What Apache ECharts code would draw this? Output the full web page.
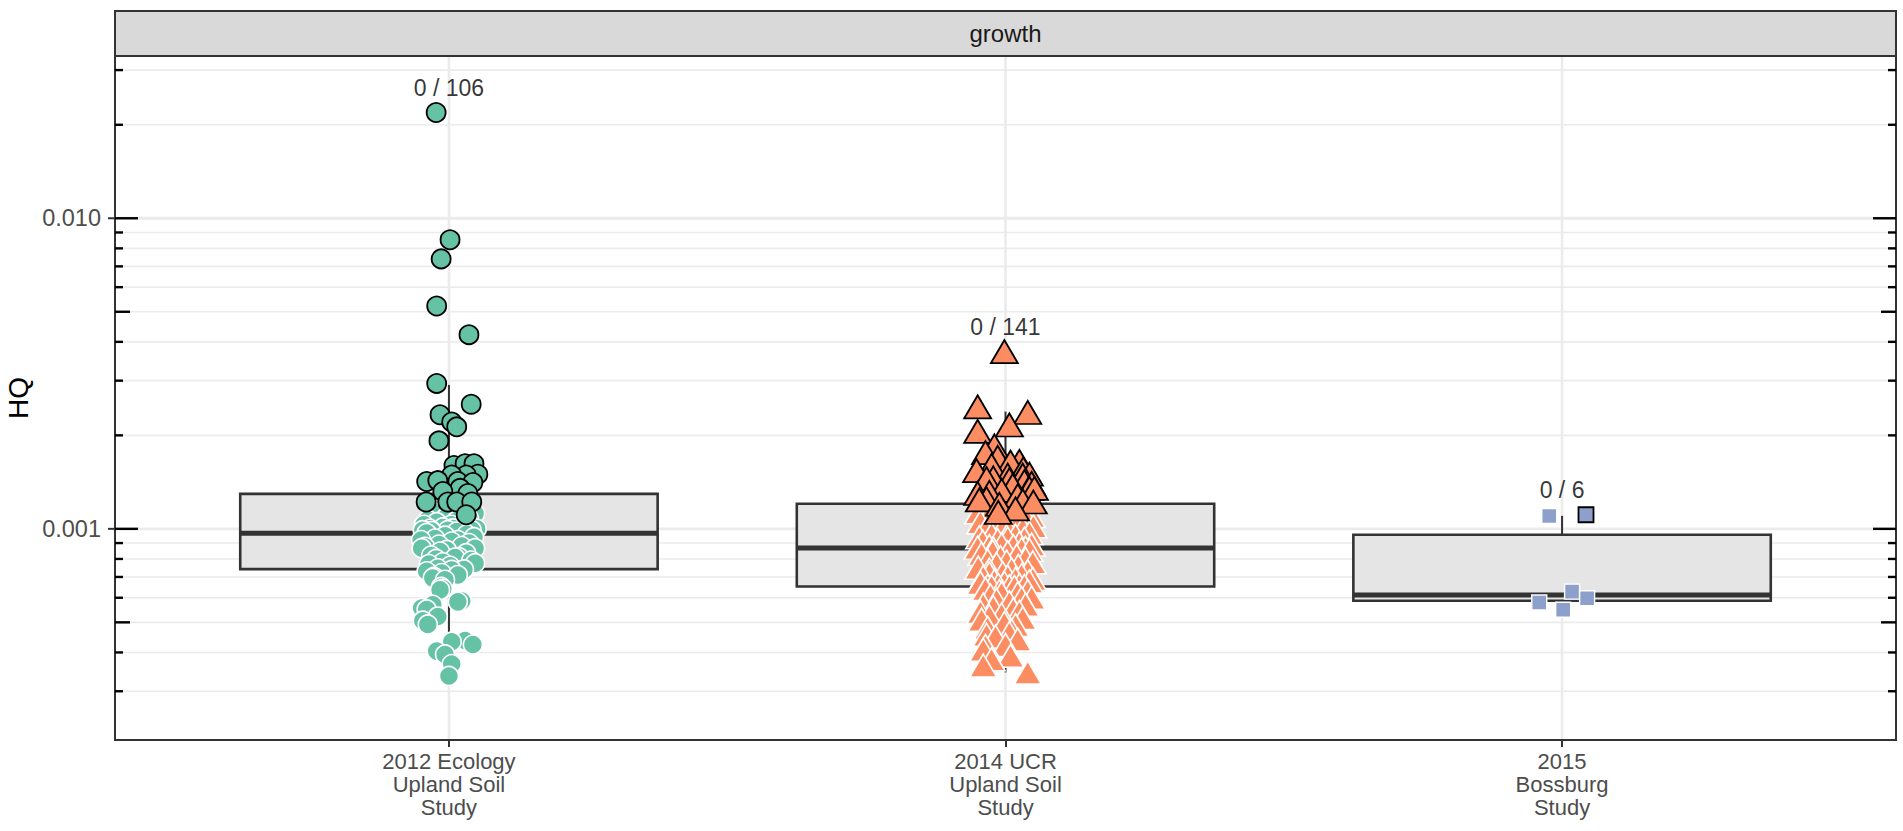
<!DOCTYPE html>
<html><head><meta charset="utf-8">
<script src="https://cdn.jsdelivr.net/npm/echarts@6/dist/echarts.min.js"></script>
<style>html,body{margin:0;padding:0;background:#fff}#c{width:1903px;height:831px}</style>
</head><body><div id="c"></div>
<script>
// ---------------- data ----------------
const categories = ['2012 Ecology\nUpland Soil\nStudy', '2014 UCR\nUpland Soil\nStudy', '2015\nBossburg\nStudy'];
const facetTitle = 'growth';
const yTitle = 'HQ';
const exceedCount = [0, 0, 0];
const sampleCount = [106, 141, 6];
const yTickValues = [0.001, 0.01];
const yTickLabels = ['0.001', '0.010'];
const yMin = 0.000209, yMax = 0.0333;
const logGridValues = [0.0003, 0.0004, 0.0005, 0.0006, 0.0007, 0.0008, 0.0009,
  0.001, 0.002, 0.003, 0.004, 0.005, 0.006, 0.007, 0.008, 0.009, 0.01, 0.02, 0.03];
// [lower whisker, Q1, median, Q3, upper whisker]
const boxStats2012 = [0.000331, 0.000742, 0.000968, 0.001296, 0.002907];
const boxStats2014 = [0.000345, 0.000652, 0.000867, 0.001204, 0.002385];
const boxStats2015 = [0.000549, 0.000587, 0.000612, 0.000957, 0.001101];

// 2012 Ecology (circles)
const hq2012Dark = [0.0219, 0.00853, 0.0074, 0.00522, 0.00422, 0.00294, 0.00252, 0.00233, 0.00221, 0.00213,
  0.00192, 0.0016, 0.00162, 0.00162, 0.0015, 0.00149, 0.00149, 0.00142, 0.00143, 0.00142,
  0.00141, 0.00135, 0.00132, 0.0013, 0.00122, 0.00122, 0.00122, 0.00122, 0.00111];
const jit2012Dark = [-0.023, 0.002, -0.014, -0.022, 0.036, -0.022, 0.040, -0.016, 0.005, 0.014,
  -0.018, 0.009, 0.029, 0.045, 0.052, 0.031, 0.005, -0.040, -0.020, 0.016,
  0.043, 0.020, -0.011, 0.034, -0.041, -0.002, 0.014, 0.041, 0.031];
const hq2012Light = [0.00116, 0.001135, 0.00112, 0.0011, 0.00109, 0.00108, 0.00107, 0.00106, 0.00105, 0.00104,
  0.00103, 0.00103, 0.00102, 0.00101, 0.00101, 0.001003, 0.001, 0.001, 0.00099, 0.00099,
  0.00099, 0.000985, 0.000983, 0.00098,
  0.00097, 0.00096, 0.00095, 0.00094, 0.00093, 0.00092, 0.00092, 0.00091, 0.0009, 0.00089,
  0.00088, 0.000875, 0.000866, 0.000866, 0.000855, 0.000845, 0.000835, 0.00082, 0.00081, 0.000808,
  0.0008, 0.00079, 0.00078, 0.000775, 0.00077, 0.00076,
  0.000746, 0.00074, 0.000737, 0.00073, 0.00072, 0.00071, 0.0007, 0.000694, 0.000685, 0.00065,
  0.000641, 0.000636, 0.000586, 0.000582, 0.000569, 0.000556, 0.00055, 0.000522, 0.000506, 0.000492,
  0.000437, 0.000433, 0.000424, 0.000404, 0.000394, 0.000367, 0.000336];
const jit2012Light = [-0.014, -0.029, 0.047, 0.022, -0.005, 0.036, -0.038, 0.013, -0.022, 0.029,
  -0.045, 0.004, 0.040, -0.011, 0.020, 0.007, -0.034, 0.050, -0.047, 0.041,
  -0.002, 0.025, -0.031, 0.014,
  -0.040, 0.032, -0.007, 0.045, -0.025, 0.016, -0.050, 0.005, 0.036, -0.018,
  0.023, -0.043, -0.049, 0.047, -0.004, -0.016, 0.031, -0.032, 0.018, 0.011,
  -0.023, 0.040, -0.011, 0.047, -0.036, 0.002,
  -0.020, 0.027, 0.005, -0.040, -0.013, 0.016, -0.027, -0.029, -0.007, -0.014,
  -0.011, -0.016, 0.023, 0.016, -0.029, -0.049, -0.040, -0.020, -0.047, -0.038,
  0.029, 0.005, 0.043, -0.022, -0.007, 0.005, 0];

// 2014 UCR (triangles)
const hq2014Dark = [0.00372, 0.00247, 0.00237, 0.00216, 0.00206, 0.00185, 0.00176, 0.0017, 0.00165, 0.00164,
  0.0016, 0.00156, 0.00154, 0.0015, 0.00149, 0.00149, 0.00146, 0.00145, 0.00144, 0.00142,
  0.0014, 0.00138, 0.00135, 0.00135, 0.00133, 0.00131, 0.0013, 0.00128, 0.00125, 0.00124,
  0.00123, 0.00122, 0.0012, 0.00116, 0.00113];
const jit2014Dark = [-0.002, -0.050, 0.040, 0.007, -0.050, -0.020, -0.036, -0.014, 0.025, 0.009,
  -0.025, 0.032, -0.052, 0.043, 0.004, 0.031, -0.022, -0.034, 0.007, 0.034,
  0.047, 0.013, 0.043, 0.052, -0.007, -0.029, -0.050, 0.022, -0.034, -0.047,
  0.031, 0.050, -0.011, 0.018, -0.013];
const hq2014Light = [0.00117, 0.00116, 0.00115, 0.00114, 0.00113, 0.00112, 0.00111, 0.0011, 0.00109, 0.00108,
  0.00107, 0.00106, 0.00105, 0.00104, 0.00103, 0.00102, 0.00101, 0.001, 0.00099, 0.00098,
  0.00097, 0.00096, 0.00095, 0.00094, 0.000931, 0.00093, 0.00092, 0.00091, 0.0009, 0.00089,
  0.00089, 0.00088, 0.00088, 0.00087, 0.00087,
  0.000865, 0.00086, 0.000855, 0.000845, 0.00084, 0.00083, 0.00082, 0.00081, 0.0008, 0.00079,
  0.000784, 0.00078, 0.00077, 0.00076, 0.00075, 0.00074, 0.00074, 0.00073, 0.00072, 0.000719,
  0.00071, 0.000702, 0.0007, 0.00069, 0.00069, 0.00068, 0.000677, 0.00067, 0.00067, 0.00066,
  0.00066, 0.000655, 0.000655, 0.000653, 0.000652,
  0.00065, 0.00064, 0.00063, 0.00063, 0.000621, 0.00062, 0.00061, 0.0006, 0.000598, 0.00059,
  0.00058, 0.00057, 0.00057, 0.00056, 0.00055, 0.00054, 0.00054, 0.00053, 0.000523, 0.000516,
  0.00051, 0.000497, 0.00049, 0.00048, 0.00047, 0.000462, 0.000456, 0.00045, 0.00044, 0.000423,
  0.00042, 0.000408, 0.00039, 0.00038, 0.000363, 0.000345];
const jit2014Light = [-0.040, 0.014, 0.036, -0.022, -0.049, 0.025, 0, 0.047, -0.032, 0.011,
  -0.011, 0.040, -0.045, 0.022, -0.018, 0.050, -0.004, 0.031, -0.036, 0.007,
  0.043, -0.025, 0.018, -0.047, 0.004, 0.034, -0.014, -0.041, 0.025, -0.007,
  0.047, -0.029, 0.014, -0.050, 0.036,
  -0.022, 0.029, 0.043, -0.023, 0.004, -0.043, 0.020, -0.009, 0.036, -0.032,
  0.002, 0.049, -0.016, 0.023, -0.049, 0.011, -0.029, 0.040, -0.005, -0.029,
  0.029, 0.004, -0.040, 0.018, 0.049, -0.020, 0.043, -0.002, -0.045, 0.025,
  -0.013, 0.034, -0.032, 0.007, -0.025,
  0.016, -0.036, 0.040, -0.011, -0.007, 0.022, -0.027, 0.047, 0.029, -0.016,
  0.007, -0.040, 0.036, -0.022, 0.014, -0.045, 0.025, -0.007, -0.029, 0.031,
  -0.043, -0.002, 0.018, -0.032, 0.011, 0.007, -0.034, -0.018, 0.022, 0,
  -0.036, -0.040, 0.009, -0.025, -0.040, 0.040];

// 2015 Bossburg (squares)
const hq2015Dark = [0.00111];
const jit2015Dark = [0.043];
const hq2015Light = [0.0011, 0.000579, 0.000628, 0.000598, 0.000549];
const jit2015Light = [-0.023, -0.041, 0.018, 0.045, 0.002];

// ---------------- layout / style ----------------
const FONT = '"Liberation Sans", Arial, Helvetica, sans-serif';
const GRID = {left: 115, right: 7, top: 56, bottom: 91};
const W = 1903, H = 831;
const STRIP_TOP = 11;
const fills = ['#66c2a5', '#fc8d62', '#8da0cb'];

const chart = echarts.init(document.getElementById('c'), null, {renderer: 'svg', width: W, height: H});

function pts(group, vals, jit) { return vals.map((v, i) => [group + jit[i], v]); }

const groupsAll = [hq2012Dark.concat(hq2012Light), hq2014Dark.concat(hq2014Light), hq2015Dark.concat(hq2015Light)];
const labelData = groupsAll.map((g, i) => [i + 1, Math.max.apply(null, g) * 1.2]);
const boxData = [boxStats2012, boxStats2014, boxStats2015].map((b, i) => [i + 1].concat(b));

function scatter(name, data, symbol, size, fill, stroke, bw) {
  return {
    type: 'scatter', name, data, symbol, symbolSize: size, z: 5,
    itemStyle: {color: fill, borderColor: stroke, borderWidth: bw, opacity: 1},
    emphasis: {disabled: true}, silent: true
  };
}

const option = {
  animation: false,
  backgroundColor: '#ffffff',
  grid: {left: GRID.left, right: GRID.right, top: GRID.top, bottom: GRID.bottom,
    outerBoundsMode: 'none', containLabel: false,
    show: true, borderColor: '#333333', borderWidth: 2, backgroundColor: '#ffffff'},
  xAxis: {
    type: 'value', min: 0.4, max: 3.6,
    axisLine: {show: false},
    splitLine: {show: false},
    axisTick: {show: true, customValues: [1, 2, 3], length: 7, lineStyle: {color: '#333333', width: 2}},
    axisLabel: {show: true, customValues: [1, 2, 3], margin: 10,
      formatter: v => categories[Math.round(v) - 1] || '',
      fontFamily: FONT, fontSize: 22, lineHeight: 23, color: '#4d4d4d', align: 'center'}
  },
  yAxis: {
    type: 'log', logBase: 10, min: yMin, max: yMax,
    axisLine: {show: false}, axisTick: {show: false}, axisLabel: {show: false}, splitLine: {show: false},
    name: yTitle, nameLocation: 'middle', nameGap: 82,
    nameTextStyle: {fontFamily: FONT, fontSize: 28, color: '#000000', lineHeight: 30}
  },
  graphic: [
    {type: 'rect', shape: {x: GRID.left, y: STRIP_TOP, width: W - GRID.left - GRID.right, height: GRID.top - STRIP_TOP},
      style: {fill: '#d9d9d9', stroke: '#333333', lineWidth: 2}, z: 10},
    {type: 'text', x: GRID.left + (W - GRID.left - GRID.right) / 2, y: (STRIP_TOP + GRID.top) / 2,
      style: {text: facetTitle, fontFamily: FONT, fontSize: 24, fill: '#1a1a1a', textAlign: 'center', textVerticalAlign: 'middle'}, z: 11}
  ],
  series: [
    { // vertical grid lines
      type: 'custom', z: 1, silent: true,
      data: categories.map((c, i) => [i + 1, yTickValues[0]]),
      renderItem(params, api) {
        const cs = params.coordSys;
        const x = api.coord([api.value(0), yTickValues[0]])[0];
        return {type: 'line', shape: {x1: x, y1: cs.y + 1, x2: x, y2: cs.y + cs.height - 1},
          style: {stroke: '#ebebeb', lineWidth: 2.6}};
      }
    },
    { // horizontal grid lines + log ticks on both sides
      type: 'custom', z: 1, silent: true,
      data: logGridValues.map(v => [1, v]),
      renderItem(params, api) {
        const cs = params.coordSys;
        const v = api.value(1);
        const y = api.coord([1, v])[1];
        const e = Math.floor(Math.log10(v) + 1e-9);
        const m = Math.round(v / Math.pow(10, e));
        const len = m === 1 ? 23 : (m === 5 ? 15 : 8);
        const gw = m === 1 ? 2.8 : 1.6;
        return {type: 'group', children: [
          {type: 'line', shape: {x1: cs.x + 1, y1: y, x2: cs.x + cs.width - 1, y2: y}, style: {stroke: '#ebebeb', lineWidth: gw}},
          {type: 'line', shape: {x1: cs.x, y1: y, x2: cs.x + len, y2: y}, style: {stroke: '#000000', lineWidth: 2.4}, z2: 5},
          {type: 'line', shape: {x1: cs.x + cs.width - len, y1: y, x2: cs.x + cs.width, y2: y}, style: {stroke: '#000000', lineWidth: 2.4}, z2: 5}
        ]};
      }
    },
    { // y axis tick marks and labels
      type: 'custom', z: 6, silent: true,
      data: yTickValues.map(v => [1, v]),
      renderItem(params, api) {
        const cs = params.coordSys;
        const y = api.coord([1, api.value(1)])[1];
        return {type: 'group', children: [
          {type: 'line', shape: {x1: cs.x - 7, y1: y, x2: cs.x, y2: y}, style: {stroke: '#333333', lineWidth: 2}},
          {type: 'text', x: cs.x - 14, y: y, style: {text: yTickLabels[params.dataIndex], fontFamily: FONT, fontSize: 23.5,
            fill: '#4d4d4d', textAlign: 'right', textVerticalAlign: 'middle'}}
        ]};
      }
    },
    { // box plots
      type: 'custom', z: 2, silent: true,
      data: boxData,
      encode: {x: 0, y: [1, 2, 3, 4, 5]},
      renderItem(params, api) {
        const x = api.value(0), lo = api.value(1), q1 = api.value(2), med = api.value(3), q3 = api.value(4), hi = api.value(5);
        const hw = 0.375;
        const tl = api.coord([x - hw, q3]), br = api.coord([x + hw, q1]);
        const ml = api.coord([x - hw, med]), mr = api.coord([x + hw, med]);
        const ph = api.coord([x, hi]), pl = api.coord([x, lo]);
        return {type: 'group', children: [
          {type: 'line', shape: {x1: ph[0], y1: ph[1], x2: ph[0], y2: tl[1]}, style: {stroke: '#333333', lineWidth: 2}},
          {type: 'line', shape: {x1: pl[0], y1: pl[1], x2: pl[0], y2: br[1]}, style: {stroke: '#333333', lineWidth: 2}},
          {type: 'rect', shape: {x: tl[0], y: tl[1], width: br[0] - tl[0], height: br[1] - tl[1]},
            style: {fill: '#e5e5e5', stroke: '#333333', lineWidth: 2.6}},
          {type: 'line', shape: {x1: ml[0], y1: ml[1], x2: mr[0], y2: mr[1]}, style: {stroke: '#333333', lineWidth: 5}}
        ]};
      }
    },
    scatter('2012 light', pts(1, hq2012Light, jit2012Light), 'circle', 19, fills[0], '#ffffff', 1.6),
    scatter('2012 dark', pts(1, hq2012Dark, jit2012Dark), 'circle', 19, fills[0], '#000000', 1.8),
    scatter('2014 light', pts(2, hq2014Light, jit2014Light), 'triangle', [27, 23], fills[1], '#ffffff', 1.6),
    scatter('2014 dark', pts(2, hq2014Dark, jit2014Dark), 'triangle', [27, 23], fills[1], '#000000', 1.8),
    scatter('2015 light', pts(3, hq2015Light, jit2015Light), 'rect', 15, fills[2], '#ffffff', 1.4),
    scatter('2015 dark', pts(3, hq2015Dark, jit2015Dark), 'rect', 15, fills[2], '#000000', 1.8),
    { // exceedance labels
      type: 'scatter', z: 7, silent: true, symbolSize: 0.1,
      itemStyle: {color: 'rgba(0,0,0,0)'},
      data: labelData,
      label: {show: true, position: 'inside', fontFamily: FONT, fontSize: 23, color: '#000000',
        formatter: p => exceedCount[p.dataIndex] + ' / ' + sampleCount[p.dataIndex]}
    }
  ]
};
chart.setOption(option);
</script>
</body></html>
